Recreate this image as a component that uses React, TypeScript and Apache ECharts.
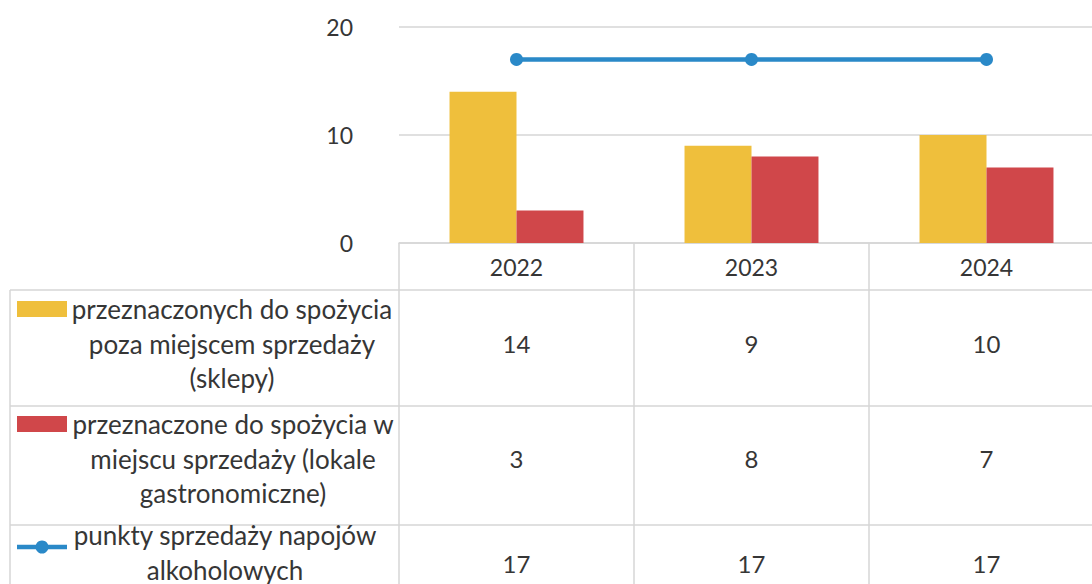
import React, { useEffect, useRef } from "react";
import * as echarts from "echarts";

const categories = ["2022", "2023", "2024"];
const seriesNames = [
  "przeznaczonych do spożycia poza miejscem sprzedaży (sklepy)",
  "przeznaczone do spożycia w miejscu sprzedaży (lokale gastronomiczne)",
  "punkty sprzedaży napojów alkoholowych",
];
const seriesLabelLines = [
  ["przeznaczonych do spożycia", "poza miejscem sprzedaży", "(sklepy)"],
  ["przeznaczone do spożycia w", "miejscu sprzedaży (lokale", "gastronomiczne)"],
  ["punkty sprzedaży napojów", "alkoholowych"],
];
const shopsValues = [14, 9, 10];
const gastroValues = [3, 8, 7];
const pointsValues = [17, 17, 17];
const yTicks = [0, 10, 20];

const COLORS = ["#EFBF3C", "#D0474A", "#2A89C8"];
const FONT = "Lato";
const TEXT = "#363636";
const GRIDC = "#D6D6D6";

export default function App() {
  const ref = useRef<HTMLDivElement>(null);
  useEffect(() => {
    if (!ref.current) return;
    const chart = echarts.init(ref.current, undefined, { renderer: "svg" });
    const W = 1110;
    const gridLeft = 399;
    const gridRight = 6;
    const gridTop = 27;
    const axisY = 243;
    chart.setOption({
      animation: false,
      backgroundColor: "#ffffff",
      grid: { left: gridLeft, right: gridRight, top: gridTop, bottom: 584 - axisY, containLabel: false },
      xAxis: {
        type: "category",
        data: categories,
        axisLine: { show: true, lineStyle: { color: GRIDC, width: 1.5 } },
        axisTick: { show: false },
        axisLabel: { fontFamily: FONT, fontSize: 23, color: TEXT, margin: 12 },
      },
      yAxis: {
        type: "value",
        min: yTicks[0],
        max: yTicks[yTicks.length - 1],
        interval: 10,
        axisLine: { show: false },
        axisTick: { show: false },
        axisLabel: { fontFamily: FONT, fontSize: 23, color: TEXT, margin: 46 },
        splitLine: { lineStyle: { color: GRIDC, width: 1.5 } },
      },
      series: [
        {
          name: seriesNames[0],
          type: "bar",
          data: shopsValues,
          itemStyle: { color: COLORS[0] },
          barGap: "0%",
          barCategoryGap: "43%",
        },
        {
          name: seriesNames[1],
          type: "bar",
          data: gastroValues,
          itemStyle: { color: COLORS[1] },
          barGap: "0%",
          barCategoryGap: "43%",
        },
        {
          name: seriesNames[2],
          type: "line",
          data: pointsValues,
          lineStyle: { color: COLORS[2], width: 4.5 },
          itemStyle: { color: COLORS[2] },
          symbol: "circle",
          symbolSize: 13,
        },
      ],
    });

    // Data table below the plot
    const xs = categories.map((c) => chart.convertToPixel({ xAxisIndex: 0 }, c) as number);
    const step = xs.length > 1 ? xs[1] - xs[0] : 235;
    const tableLeft = 10;
    const rowTops = [290, 406, 525];
    const valueY = [343, 458, 563];
    const firstLineY = [309, 424, 535];
    const lineH = 34.5;
    const labelCenterX = [232, 233, 225];
    const values = [shopsValues, gastroValues, pointsValues];
    const g: any[] = [];
    const lineStyle = { stroke: GRIDC, lineWidth: 1.5 };
    g.push({ type: "line", shape: { x1: gridLeft, y1: axisY, x2: gridLeft, y2: 600 }, style: lineStyle });
    xs.forEach((x) => {
      const xr = x + step / 2;
      g.push({ type: "line", shape: { x1: xr, y1: axisY, x2: xr, y2: 600 }, style: lineStyle });
    });
    g.push({ type: "line", shape: { x1: tableLeft, y1: rowTops[0], x2: tableLeft, y2: 600 }, style: lineStyle });
    rowTops.forEach((y) => {
      g.push({ type: "line", shape: { x1: tableLeft, y1: y, x2: W, y2: y }, style: lineStyle });
    });
    seriesLabelLines.forEach((lines, r) => {
      lines.forEach((t, i) => {
        g.push({
          type: "text",
          x: labelCenterX[r],
          y: firstLineY[r] + i * lineH,
          style: { text: t, fontFamily: FONT, fontSize: 26, fill: TEXT, align: "center", verticalAlign: "middle" },
        });
      });
      const ky = firstLineY[r];
      if (r < 2) {
        g.push({ type: "rect", shape: { x: 17, y: ky - 8, width: 50, height: 16 }, style: { fill: COLORS[r] } });
      } else {
        g.push({ type: "line", shape: { x1: 17, y1: ky + 12, x2: 67, y2: ky + 12 }, style: { stroke: COLORS[2], lineWidth: 4.5 } });
        g.push({ type: "circle", shape: { cx: 42, cy: ky + 12, r: 6.5 }, style: { fill: COLORS[2] } });
      }
      values[r].forEach((v, c) => {
        g.push({
          type: "text",
          x: xs[c],
          y: valueY[r],
          style: { text: String(v), fontFamily: FONT, fontSize: 24, fill: TEXT, align: "center", verticalAlign: "middle" },
        });
      });
    });
    chart.setOption({ graphic: { elements: g } });

    return () => chart.dispose();
  }, []);

  return (
    <div style={{ position: "absolute", left: 0, top: 0, width: 1092, height: 584, overflow: "hidden", background: "#fff" }}>
      <div ref={ref} style={{ width: 1110, height: 584 }} />
    </div>
  );
}
